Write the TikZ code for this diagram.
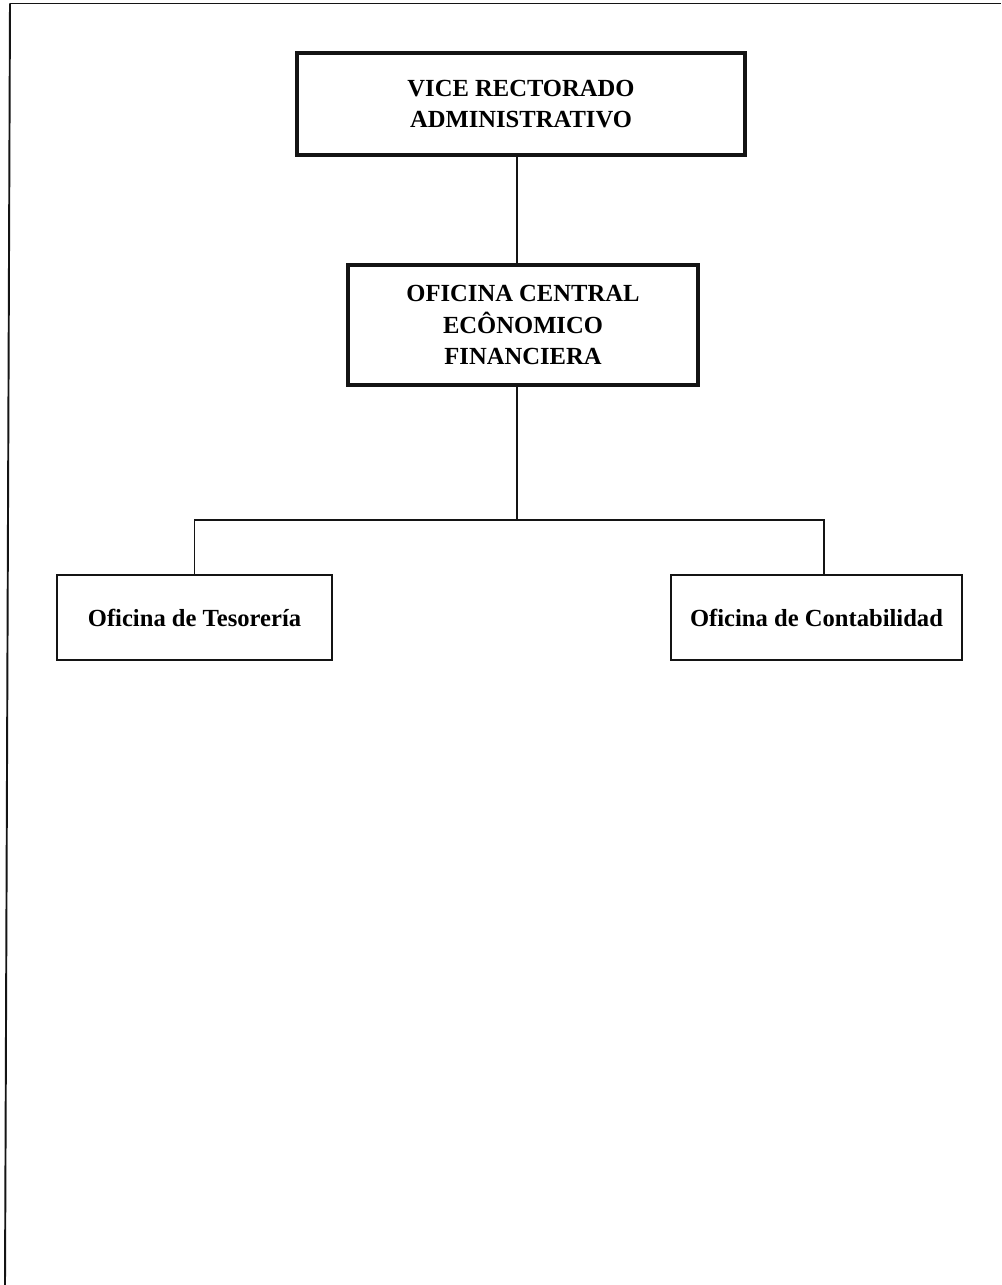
\documentclass[tikz,border=0pt]{standalone}
\usepackage{fontspec}
\setmainfont{Liberation Serif}
\usepackage{tikz}
\usetikzlibrary{positioning, calc}
\definecolor{mydark}{RGB}{20,20,20}
\tikzset{
  headbox/.style={rectangle, draw=mydark, line width=2.3pt,
    align=center, font=\bfseries\fontsize{14}{17.8}\selectfont},
  unitbox/.style={rectangle, draw=mydark, line width=0.9pt,
    align=center, minimum height=1.7cm, font=\bfseries\fontsize{14}{17.8}\selectfont},
  line/.style={line width=0.8pt, color=mydark}
}
\begin{document}
\begin{tikzpicture}
  \useasboundingbox (0,0) rectangle (20.02,-25.7);

  % Page frame (top and left only)
  \draw[line width=1.1pt, color=mydark] (0.2,-0.07) -- (20.02,-0.07);
  \draw[line width=1.1pt, color=mydark] (0.2,-0.07) -- (0.1,-25.7);

  % Top levels
  \node[headbox, minimum width=8.96cm, minimum height=2.04cm] (vra) at (10.42,-2.08)
    {VICE RECTORADO\\ADMINISTRATIVO};
  \node[headbox, minimum width=7.0cm, minimum height=2.4cm] (ocef) at (10.46,-6.5)
    {OFICINA CENTRAL\\EC\^ONOMICO\\FINANCIERA};

  % Offices
  \node[unitbox, minimum width=5.5cm] (tes) at (3.89,-12.35) {Oficina de Tesorería};
  \node[unitbox, minimum width=5.82cm] (con) at (16.33,-12.35) {Oficina de Contabilidad};

  % Connectors
  \coordinate (split) at (10.34,-10.4);
  \draw[line] (vra.south -| split) -- (ocef.north -| split);
  \draw[line] (ocef.south -| split) -- (split);
  \draw[line] (tes.north) |- (split);
  \draw[line] (split) -| ([xshift=0.15cm]con.north);
\end{tikzpicture}
\end{document}
